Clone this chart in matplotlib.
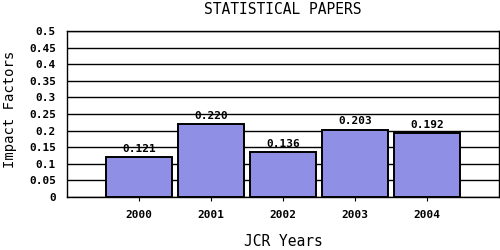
import matplotlib
matplotlib.use("Agg")
import matplotlib.pyplot as plt

years = ["2000", "2001", "2002", "2003", "2004"]
impact = [0.121, 0.220, 0.136, 0.203, 0.192]
labels = ["0.121", "0.220", "0.136", "0.203", "0.192"]
yticks = [0, 0.05, 0.1, 0.15, 0.2, 0.25, 0.3, 0.35, 0.4, 0.45, 0.5]
ytick_labels = ["0", "0.05", "0.1", "0.15", "0.2", "0.25", "0.3", "0.35", "0.4", "0.45", "0.5"]

mono = "DejaVu Sans Mono"
fig = plt.figure(figsize=(5, 2.5), dpi=100)
ax = fig.add_axes([67/500, 1-197/250, 432/500, 166/250])
x = list(range(len(years)))
ax.bar(x, impact, width=0.92, color="#8f8fe6", edgecolor="black", linewidth=1.4, zorder=3)
for xi, v, l in zip(x, impact, labels):
    ax.text(xi, v + 0.01, l, ha="center", va="bottom", fontsize=8, fontweight="bold", family=mono, zorder=4)
ax.set_xlim(-1, 5)
ax.set_ylim(0, 0.5)
ax.set_yticks(yticks)
ax.set_yticklabels(ytick_labels, fontsize=8, fontweight="bold", family=mono)
ax.set_xticks(x)
ax.set_xticklabels(years, fontsize=8, fontweight="bold", family=mono)
ax.tick_params(axis="y", length=0, pad=8)
ax.tick_params(axis="x", length=3, pad=6)
ax.yaxis.grid(True, color="black", linewidth=1, zorder=0)
ax.set_axisbelow(True)
for s in ax.spines.values():
    s.set_linewidth(1)
fig.text(283/500, 1-9/250, "STATISTICAL PAPERS", ha="center", va="center", fontsize=10.5, family=mono)
fig.text(283/500, 1-242/250, "JCR Years", ha="center", va="center", fontsize=10.5, family=mono)
fig.text(10/500, 1-109/250, "Impact Factors", ha="center", va="center", rotation=90, fontsize=10, family=mono)
fig.savefig("out.png", dpi=100)
